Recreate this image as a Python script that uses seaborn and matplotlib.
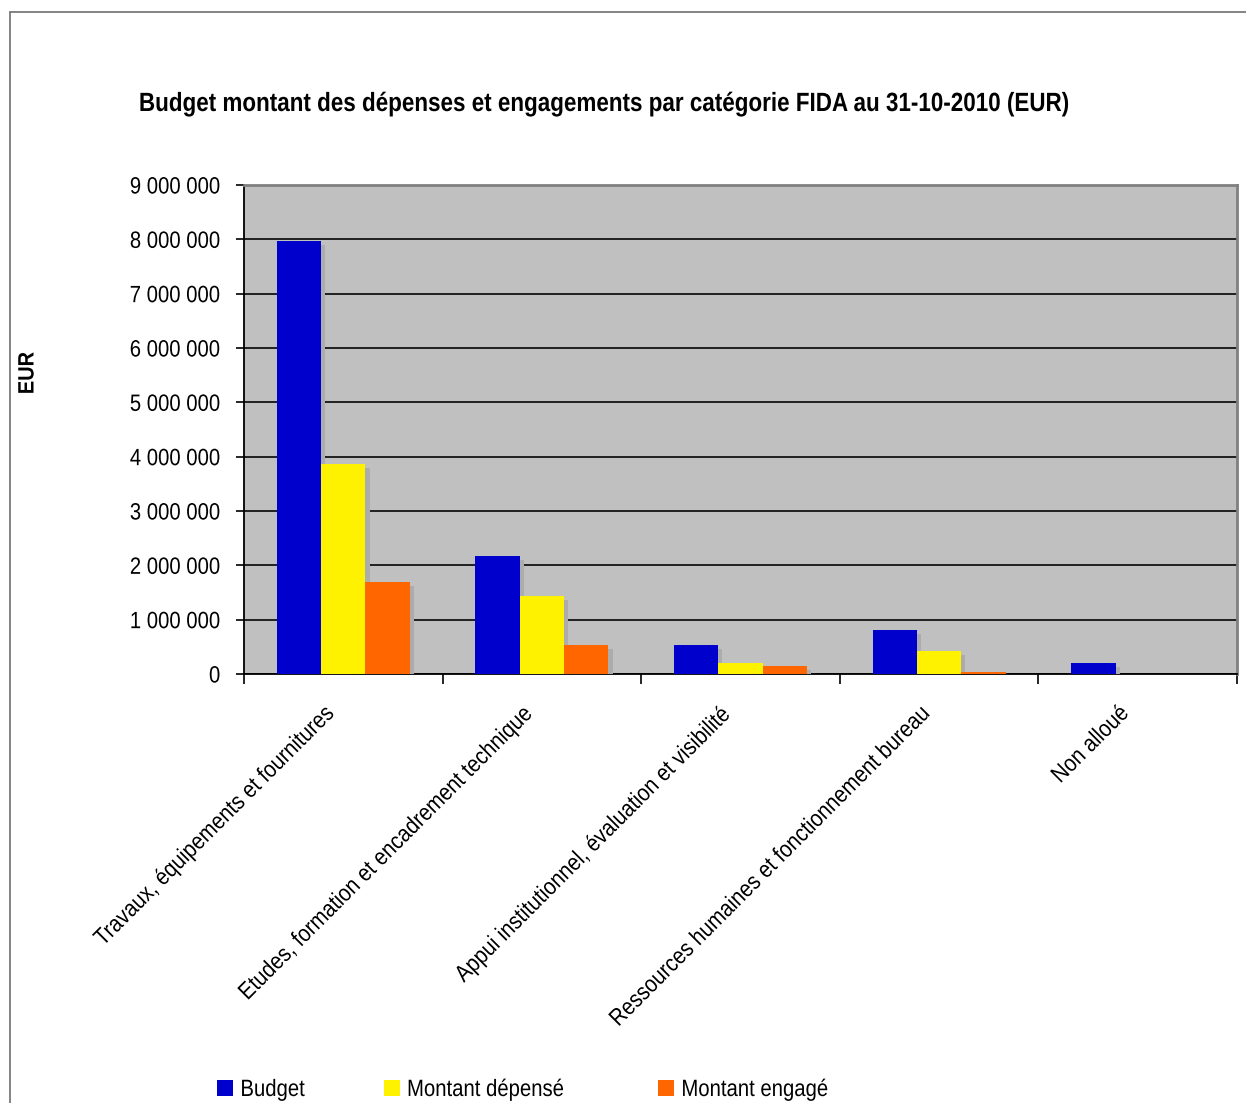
import matplotlib
matplotlib.use("Agg")
import matplotlib.pyplot as plt
import matplotlib.patheffects as pe
from matplotlib.lines import Line2D
from matplotlib.transforms import Affine2D, ScaledTranslation
from matplotlib.ticker import FuncFormatter, MultipleLocator
import pandas as pd
import seaborn as sns

categories = [
    "Travaux, équipements et fournitures",
    "Etudes, formation et encadrement technique",
    "Appui institutionnel, évaluation et visibilité",
    "Ressources humaines et fonctionnement bureau",
    "Non alloué",
]
budget = [7970000, 2170000, 535000, 810000, 200000]
montant_depense = [3865000, 1435000, 200000, 420000, 0]
montant_engage = [1690000, 535000, 145000, 45000, 0]
series_names = ["Budget", "Montant dépensé", "Montant engagé"]
colors = ["#0000CC", "#FFF200", "#FF6600"]

df = pd.DataFrame({
    "categorie": categories * 3,
    "serie": [series_names[0]] * 5 + [series_names[1]] * 5 + [series_names[2]] * 5,
    "valeur": budget + montant_depense + montant_engage,
})


class Squeeze(pe.AbstractPathEffect):
    """Narrow the glyphs of a text along its baseline, keeping one end fixed."""

    def __init__(self, sx=0.86, anchor=0.5):
        super().__init__()
        self.sx = sx
        self.anchor = anchor

    def draw_path(self, renderer, gc, tpath, affine, rgbFace=None):
        ext = tpath.get_extents()
        x0 = ext.x0 + (ext.x1 - ext.x0) * self.anchor
        t = Affine2D().translate(-x0, 0).scale(self.sx, 1).translate(x0, 0) + affine
        renderer.draw_path(gc, tpath, t, rgbFace)


sns.set_style("white")
plt.rcParams["font.family"] = ["Liberation Sans", "DejaVu Sans"]
for key in ["text.color", "axes.labelcolor", "xtick.color", "ytick.color"]:
    plt.rcParams[key] = "black"

fig = plt.figure(figsize=(12.46, 11.03), dpi=100)
ax = fig.add_axes([244 / 1246, 1 - 674 / 1103, (1237 - 244) / 1246, (674 - 185) / 1103])

sns.barplot(data=df, x="categorie", y="valeur", hue="serie", hue_order=series_names,
            order=categories, palette=colors, width=0.67, gap=0, dodge=True,
            saturation=1, ax=ax, legend=True, errorbar=None, linewidth=0, zorder=3)

shadow = [pe.SimplePatchShadow(offset=(3, -3), shadow_rgbFace="#acacac", alpha=1.0), pe.Normal()]
for p in ax.patches:
    p.set_path_effects(shadow)

ax.set_facecolor("#C0C0C0")
ax.set_ylim(0, 9000000)
ax.set_xlim(-0.5, 4.5)
ax.yaxis.set_major_locator(MultipleLocator(1000000))
ax.yaxis.set_major_formatter(FuncFormatter(lambda v, _: f"{int(round(v)):,}".replace(",", " ")))
ax.grid(axis="y", color="#202020", linewidth=1.4, zorder=1)
ax.set_axisbelow(True)
ax.set_xlabel("")
ax.set_ylabel("")

for side in ["top", "right"]:
    ax.spines[side].set_color("#808080")
    ax.spines[side].set_linewidth(2)
for side in ["left", "bottom"]:
    ax.spines[side].set_color("black")
    ax.spines[side].set_linewidth(1.3)

ax.tick_params(axis="y", which="major", direction="out", length=6, width=1.2,
               labelsize=17, pad=11, left=True)
for lab in ax.get_yticklabels():
    lab.set_path_effects([Squeeze(0.86, 1.0)])

ax.set_xticks([i - 0.5 for i in range(6)], minor=False)
ax.set_xticklabels([])
ax.set_xticks(range(5), minor=True)
ax.set_xticklabels(categories, minor=True, rotation=45, ha="right", va="center",
                   rotation_mode="anchor", fontsize=17)
ax.tick_params(axis="x", which="major", direction="out", length=7, width=1.2, bottom=True)
ax.tick_params(axis="x", which="minor", length=0, pad=28)
shift = ScaledTranslation(-12 / 100, 3 / 100, fig.dpi_scale_trans)
for lab in ax.get_xticklabels(minor=True):
    lab.set_transform(lab.get_transform() + shift)
    lab.set_path_effects([Squeeze(0.87, 1.0)])

handles, labels = ax.get_legend_handles_labels()
ax.get_legend().remove()
leg = fig.legend(handles, labels, loc="center left", bbox_to_anchor=(217 / 1246, 1 - 1090 / 1103),
                 ncol=3, frameon=False, fontsize=17, handlelength=0.68, handleheight=0.68,
                 handletextpad=0.3, columnspacing=2.9, borderpad=0, borderaxespad=0)
for h in leg.legend_handles:
    h.set_path_effects([])
for t in leg.get_texts():
    t.set_path_effects([Squeeze(0.86, 0.0)])

title = fig.text(604 / 1246, 1 - 104 / 1103,
                 "Budget montant des dépenses et engagements par catégorie FIDA au 31-10-2010 (EUR)",
                 ha="center", va="center", fontsize=19, fontweight="bold")
title.set_path_effects([Squeeze(0.85, 0.5)])
ylab = fig.text(28 / 1246, 1 - 373 / 1103, "EUR", rotation=90, ha="center", va="center",
                fontsize=16, fontweight="bold")
ylab.set_path_effects([Squeeze(0.9, 0.5)])

fig.add_artist(Line2D([10 / 1246, 1.0], [1 - 12 / 1103, 1 - 12 / 1103],
                      transform=fig.transFigure, color="#707070", linewidth=1.2))
fig.add_artist(Line2D([10 / 1246, 10 / 1246], [0.0, 1 - 12 / 1103],
                      transform=fig.transFigure, color="#707070", linewidth=1.2))

fig.savefig("out.png", dpi=100, facecolor="white")
